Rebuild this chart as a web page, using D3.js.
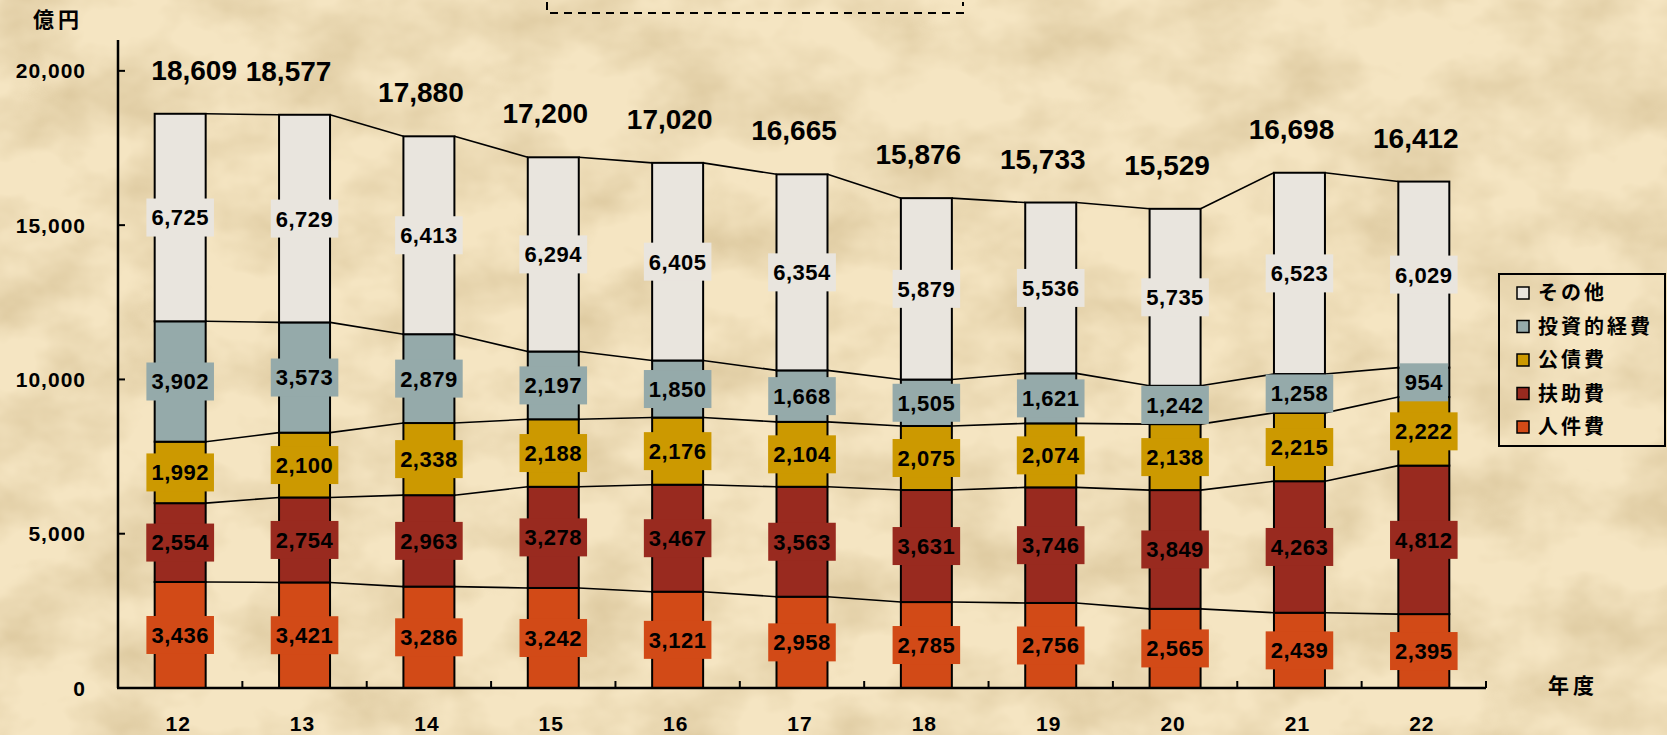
<!DOCTYPE html>
<html>
<head>
<meta charset="utf-8">
<script src="https://cdn.jsdelivr.net/npm/d3@7"></script>
<style>
  html, body { margin: 0; padding: 0; background: #efdcb4; }
  svg { display: block; }
  .num { font-family: "Liberation Sans", Arial, sans-serif; font-weight: bold; fill: #000; }
  .jp { font-family: "Noto Sans CJK JP", sans-serif; font-weight: bold; fill: #000; }
</style>
</head>
<body>
<svg id="chart" width="1667" height="735"></svg>
<script>
// data (億円)
const years = ["12", "13", "14", "15", "16", "17", "18", "19", "20", "21", "22"];
const jinkenhi = [3436, 3421, 3286, 3242, 3121, 2958, 2785, 2756, 2565, 2439, 2395];
const fujohi = [2554, 2754, 2963, 3278, 3467, 3563, 3631, 3746, 3849, 4263, 4812];
const kosaihi = [1992, 2100, 2338, 2188, 2176, 2104, 2075, 2074, 2138, 2215, 2222];
const toshi = [3902, 3573, 2879, 2197, 1850, 1668, 1505, 1621, 1242, 1258, 954];
const sonota = [6725, 6729, 6413, 6294, 6405, 6354, 5879, 5536, 5735, 6523, 6029];
const totals = [18609, 18577, 17880, 17200, 17020, 16665, 15876, 15733, 15529, 16698, 16412];
const yTicks = [0, 5000, 10000, 15000, 20000];

const seriesNames = ["人件費", "扶助費", "公債費", "投資的経費", "その他"];
const seriesValues = [jinkenhi, fujohi, kosaihi, toshi, sonota];
const colors = ["#d24a17", "#992a1f", "#cc9900", "#95aaaa", "#e9e5de"];

const svg = d3.select("#chart");
const W = +svg.attr("width"), H = +svg.attr("height");

// parchment background
const defs = svg.append("defs");
const f = defs.append("filter").attr("id", "paper").attr("x", 0).attr("y", 0).attr("width", 1).attr("height", 1);
f.append("feTurbulence").attr("type", "fractalNoise").attr("baseFrequency", "0.011 0.015")
  .attr("numOctaves", 4).attr("seed", 11);
f.append("feColorMatrix").attr("type", "matrix")
  .attr("values", "0 0 0 0 0.58  0 0 0 0 0.44  0 0 0 0 0.22  1.0 0 0 0 -0.36");
svg.append("rect").attr("width", W).attr("height", H).attr("fill", "#f5e5c2");
svg.append("rect").attr("width", W).attr("height", H).attr("filter", "url(#paper)");

const x = d3.scaleBand().domain(years).range([118, 1486]).paddingInner(0.59).paddingOuter(0.295);
const y = d3.scaleLinear().domain([0, 21000]).range([688, 40]);

const table = years.map((yr, i) => {
  const row = { year: yr };
  seriesNames.forEach((s, k) => row[s] = seriesValues[k][i]);
  return row;
});
const stacked = d3.stack().keys(seriesNames)(table);

// bars
const g = svg.append("g");
stacked.forEach((layer, k) => {
  g.selectAll(null).data(layer).enter().append("rect")
    .attr("x", d => x(d.data.year))
    .attr("y", d => y(d[1]))
    .attr("width", x.bandwidth())
    .attr("height", d => y(d[0]) - y(d[1]))
    .attr("fill", colors[k])
    .attr("stroke", "#000")
    .attr("stroke-width", 2);
});

// series lines between bars
stacked.forEach(layer => {
  const segs = d3.pairs(layer);
  g.selectAll(null).data(segs).enter().append("line")
    .attr("x1", d => x(d[0].data.year) + x.bandwidth())
    .attr("y1", d => y(d[0][1]))
    .attr("x2", d => x(d[1].data.year))
    .attr("y2", d => y(d[1][1]))
    .attr("stroke", "#000")
    .attr("stroke-width", 1.6);
});

// axes
const axisG = svg.append("g");
axisG.append("line").attr("x1", 118).attr("x2", 118).attr("y1", y(21000)).attr("y2", y(0))
  .attr("stroke", "#000").attr("stroke-width", 2.5);
axisG.append("line").attr("x1", 117).attr("x2", 1486).attr("y1", y(0)).attr("y2", y(0))
  .attr("stroke", "#000").attr("stroke-width", 2.5);
axisG.selectAll(".yt").data(yTicks.slice(1)).enter().append("line")
  .attr("x1", 118).attr("x2", 125).attr("y1", d => y(d)).attr("y2", d => y(d))
  .attr("stroke", "#000").attr("stroke-width", 2);
axisG.selectAll(".yl").data(yTicks).enter().append("text")
  .attr("class", "num")
  .attr("x", 86).attr("y", d => y(d)).attr("dy", "0.36em")
  .attr("text-anchor", "end").style("font-size", "21px").style("letter-spacing", "1px")
  .text(d => d3.format(",")(d));
const bounds = years.slice(1).map(yr => x(yr) - x.step() * x.paddingInner() / 2);
bounds.push(1486);
axisG.selectAll(".xt").data(bounds).enter().append("line")
  .attr("x1", d => d).attr("x2", d => d).attr("y1", y(0)).attr("y2", y(0) - 7)
  .attr("stroke", "#000").attr("stroke-width", 2);
axisG.selectAll(".xl").data(years).enter().append("text")
  .attr("class", "num")
  .attr("x", d => x(d) + x.bandwidth() / 2 - 2).attr("y", 723).attr("dy", "0.36em")
  .attr("text-anchor", "middle").style("font-size", "21px").style("letter-spacing", "1px")
  .text(d => d);

svg.append("text").attr("class", "jp").attr("x", 33).attr("y", 19).attr("dy", "0.36em")
  .style("font-size", "21px").style("letter-spacing", "4px").text("億円");
svg.append("text").attr("class", "jp").attr("x", 1548).attr("y", 685).attr("dy", "0.36em")
  .style("font-size", "21px").style("letter-spacing", "4px").text("年度");

// segment value labels with coloured boxes
const fmt = d3.format(",");
const lblG = svg.append("g");
stacked.forEach((layer, k) => {
  layer.forEach(d => {
    const cx = x(d.data.year) + x.bandwidth() / 2;
    const cy = (y(d[0]) + y(d[1])) / 2;
    const t = lblG.append("text").attr("class", "num")
      .attr("x", cx).attr("y", cy).attr("dy", "0.36em")
      .attr("text-anchor", "middle").style("font-size", "22px").style("letter-spacing", "0.5px")
      .text(fmt(d.data[seriesNames[k]]));
    const bb = t.node().getBBox();
    lblG.insert("rect", "text")
      .attr("x", cx - bb.width / 2 - 5).attr("y", cy - 19)
      .attr("width", bb.width + 10).attr("height", 38)
      .attr("fill", colors[k]);
  });
});

// totals above each bar; the first two are pushed apart so they do not touch
svg.append("g").selectAll("text").data(totals).enter().append("text")
  .attr("class", "num")
  .attr("x", (d, i) => x(years[i]) + x.bandwidth() / 2 + (i === 0 ? 14 : i === 1 ? -16 : -8))
  .attr("y", d => y(d) - 34)
  .attr("text-anchor", "middle").style("font-size", "28px")
  .text(d => fmt(d));

// legend
const lg = svg.append("g");
lg.append("rect").attr("x", 1499).attr("y", 274).attr("width", 166).attr("height", 172)
  .attr("fill", "none").attr("stroke", "#000").attr("stroke-width", 2);
const legendOrder = d3.range(seriesNames.length).reverse();
legendOrder.forEach((k, j) => {
  const cy = 293 + j * 33.5;
  lg.append("rect").attr("x", 1517).attr("y", cy - 6).attr("width", 12).attr("height", 12)
    .attr("fill", colors[k]).attr("stroke", "#000").attr("stroke-width", 1.5);
  lg.append("text").attr("class", "jp").attr("x", 1538).attr("y", cy).attr("dy", "0.36em")
    .style("font-size", "20px").style("letter-spacing", "3px").text(seriesNames[k]);
});

// dashed frame cut off at the top
svg.append("path").attr("d", "M547,2 V13 H963 V2")
  .attr("fill", "none").attr("stroke", "#000").attr("stroke-width", 2)
  .attr("stroke-dasharray", "8,6");
</script>
</body>
</html>
